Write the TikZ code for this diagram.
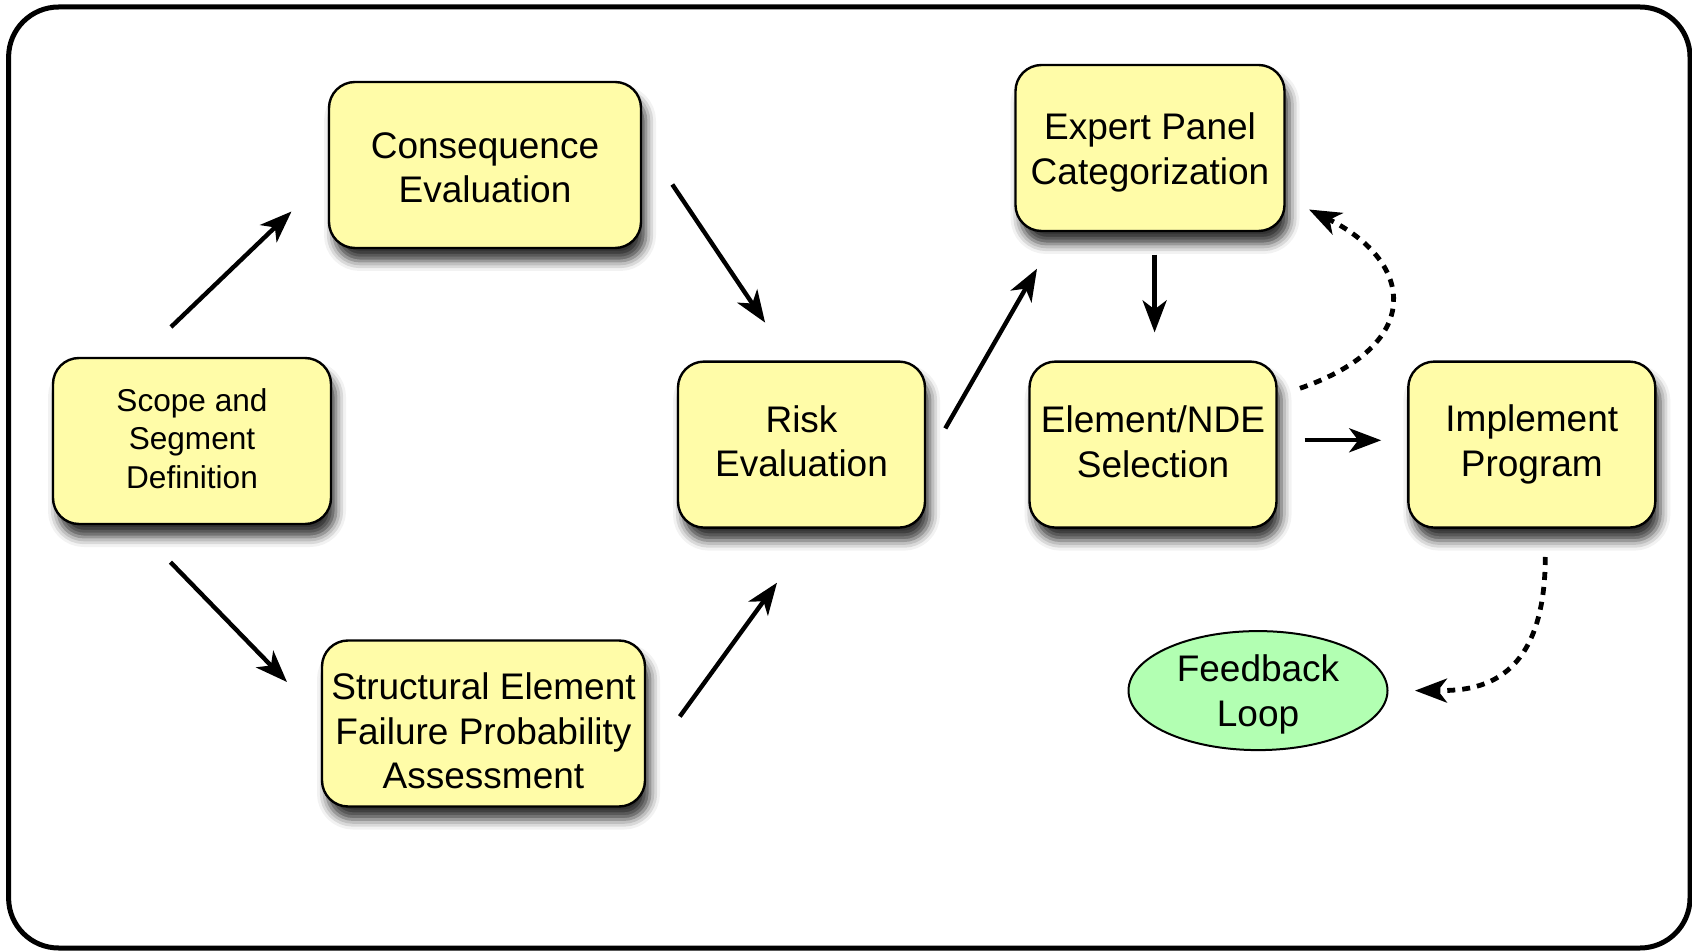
\documentclass[tikz,border=0pt]{standalone}
\usepackage{fontspec}
\setmainfont{Liberation Sans}
\usetikzlibrary{arrows.meta,shapes.geometric,shadows.blur}

\definecolor{boxfill}{RGB}{255,252,168}
\definecolor{loopfill}{RGB}{178,255,178}

\tikzset{
  stepbox/.style={draw=black, line width=1.2pt, fill=boxfill,
    rounded corners=13pt, align=center, inner sep=2pt,
    minimum height=83pt,
    font=\fontsize{18.5}{22.4}\selectfont,
    blur shadow={shadow xshift=2.5pt, shadow yshift=-6.5pt,
      shadow blur radius=5pt, shadow opacity=80}},
  loopnode/.style={draw=black, line width=1pt, fill=loopfill, ellipse,
    align=center, inner sep=0pt, minimum width=129.5pt, minimum height=59.5pt,
    font=\fontsize{18.5}{22.4}\selectfont},
  arr/.style={line width=2.2pt,
    -{Stealth[length=16pt, width=12pt, inset=4.5pt]}},
  dasharr/.style={line width=2.4pt, dash pattern=on 4pt off 3.5pt,
    -{Stealth[length=16pt, width=12pt, inset=4.5pt]}},
  frame/.style={draw=black, line width=2.5pt, rounded corners=25pt}
}

\begin{document}
\begin{tikzpicture}[x=0.5pt, y=-0.5pt]
  \useasboundingbox (0,0) rectangle (1692,951);

  % outer frame
  \draw[frame] (8.6,7) rectangle (1690,948);

  % process steps (text height trims the vertical placement of each label)
  \node[stepbox, minimum width=139pt, text height=47.5pt,
        font=\fontsize{15.8}{19.2}\selectfont]
    (scope) at (192,441) {Scope and\\Segment\\Definition};
  \node[stepbox, minimum width=156pt, text height=38pt] (cons) at (485,165)
    {Consequence\\Evaluation};
  \node[stepbox, minimum width=161.5pt, text height=65.6pt] (struct) at (483.5,723.5)
    {Structural Element\\Failure Probability\\Assessment};
  \node[stepbox, minimum width=123.5pt, text height=32.4pt] (risk) at (801.5,444.6)
    {Risk\\Evaluation};
  \node[stepbox, minimum width=134.5pt, text height=40pt] (expert) at (1150,148)
    {Expert Panel\\Categorization};
  \node[stepbox, minimum width=123.5pt, text height=32.6pt] (elem) at (1153,444.6)
    {Element/NDE\\Selection};
  \node[stepbox, minimum width=123.5pt] (impl) at (1531.8,444.6)
    {Implement\\Program};
  \node[loopnode, text height=35.5pt, text depth=-3.9pt] (loop) at (1258,690.6)
    {Feedback\\Loop};

  % connector end points
  \coordinate (scope-up)    at (171,327);
  \coordinate (cons-in)     at (291.5,211.5);
  \coordinate (cons-out)    at (672.3,184.5);
  \coordinate (risk-in-top) at (765.1,322.6);
  \coordinate (scope-down)  at (170.5,562.2);
  \coordinate (struct-in)   at (287,682);
  \coordinate (struct-out)  at (679.8,716.5);
  \coordinate (risk-in-bot) at (777,582.7);
  \coordinate (risk-out)    at (945.3,428.4);
  \coordinate (expert-in)   at (1037,268.7);
  \coordinate (expert-out)  at (1154.6,254.7);
  \coordinate (elem-in)     at (1154.6,332.4);
  \coordinate (elem-out)    at (1304.6,440.3);
  \coordinate (impl-in)     at (1381.2,440.3);
  \coordinate (elem-back)   at (1300,388.3);
  \coordinate (expert-back) at (1309,209.5);
  \coordinate (impl-out)    at (1545.3,557);
  \coordinate (loop-in)     at (1415,690.6);

  % solid flow
  \draw[arr] (scope-up) -- (cons-in);
  \draw[arr] (cons-out) -- (risk-in-top);
  \draw[arr] (scope-down) -- (struct-in);
  \draw[arr] (struct-out) -- (risk-in-bot);
  \draw[arr] (risk-out) -- (expert-in);
  \draw[arr] (expert-out) -- (elem-in);
  \draw[arr] (elem-out) -- (impl-in);

  % feedback paths
  \draw[dasharr] (elem-back) .. controls (1425,345) and (1415,262) .. (expert-back);
  \draw[dasharr] (impl-out) .. controls (1545,690) and (1470,690.6) .. (loop-in);
\end{tikzpicture}
\end{document}
